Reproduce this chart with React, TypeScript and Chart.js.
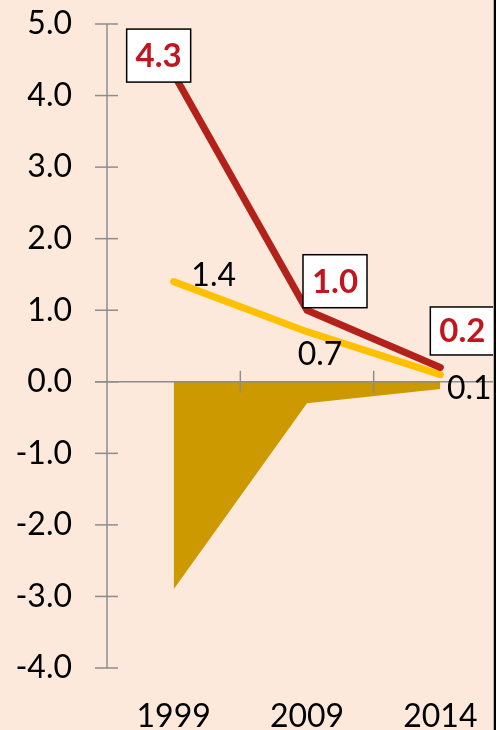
import React, { useEffect, useRef } from "react";
import { Chart, registerables } from "chart.js";

Chart.register(...registerables);

const years = ["1999", "2009", "2014"];
const redSeries = [4.3, 1.0, 0.2];
const yellowSeries = [1.4, 0.7, 0.1];
const areaSeries = [-2.9, -0.3, -0.1];
const yMin = -4;
const yMax = 5;
const yStep = 1;

const BG = "#FDE9DB";
const RED = "#B3221A";
const RED_TEXT = "#C0161F";
const YELLOW = "#FFC000";
const GOLD = "#CC9900";
const AXIS = "#8C8C8C";
const FONT = "Lato, 'Open Sans', sans-serif";

// label offsets (pixels, relative to point): styling only
const redOffsets = [[-15, -18.5], [28, -29], [22, -36.5]];
const yellowOffsets = [[40, -7], [13, 21.5], [29, 13]];

const CANVAS_W = 507;
const CANVAS_H = 740;
const AREA_TOP = 24;
const AREA_BOTTOM = 668;

const overlayPlugin = {
  id: "overlay",
  afterDatasetsDraw(chart: any) {
    const ctx = chart.ctx;
    const { left, right, top, bottom } = chart.chartArea;
    const ys = chart.scales.y;
    const xs = chart.scales.x;
    ctx.save();
    ctx.strokeStyle = AXIS;
    ctx.lineWidth = 1.5;
    ctx.beginPath();
    ctx.moveTo(left, top);
    ctx.lineTo(left, bottom);
    ctx.stroke();
    for (let v = yMin; v <= yMax; v += yStep) {
      const py = ys.getPixelForValue(v);
      ctx.beginPath();
      ctx.moveTo(left - 12, py);
      ctx.lineTo(left + 11, py);
      ctx.stroke();
    }
    const zy = ys.getPixelForValue(0);
    ctx.beginPath();
    ctx.moveTo(left - 12, zy);
    ctx.lineTo(right, zy);
    ctx.stroke();
    for (let i = 0; i < years.length - 1; i++) {
      const px = (xs.getPixelForValue(i) + xs.getPixelForValue(i + 1)) / 2;
      ctx.beginPath();
      ctx.moveTo(px, zy - 11);
      ctx.lineTo(px, zy + 11);
      ctx.stroke();
    }
    ctx.restore();
  },
  afterDraw(chart: any) {
    const ctx = chart.ctx;
    const xs = chart.scales.x;
    const ys = chart.scales.y;
    ctx.save();
    ctx.textAlign = "center";
    ctx.textBaseline = "alphabetic";
    ctx.font = `32px ${FONT}`;
    ctx.fillStyle = "#000";
    yellowSeries.forEach((v, i) => {
      const cx = xs.getPixelForValue(i) + yellowOffsets[i][0];
      const cy = ys.getPixelForValue(v) + yellowOffsets[i][1];
      ctx.fillText(v.toFixed(1), cx, cy + 11.5);
    });
    ctx.font = `bold 33px ${FONT}`;
    redSeries.forEach((v, i) => {
      const cx = xs.getPixelForValue(i) + redOffsets[i][0];
      const cy = ys.getPixelForValue(v) + redOffsets[i][1];
      const t = v.toFixed(1);
      const w = 64;
      const h = i === 2 ? 48 : 53;
      ctx.fillStyle = "#fff";
      ctx.fillRect(cx - w / 2, cy - h / 2, w, h);
      ctx.strokeStyle = "#000";
      ctx.lineWidth = 1.5;
      ctx.strokeRect(cx - w / 2, cy - h / 2, w, h);
      ctx.fillStyle = RED_TEXT;
      ctx.fillText(t, cx, cy + 11.5);
    });
    ctx.restore();
  },
};

export default function App() {
  const ref = useRef<HTMLCanvasElement>(null);
  useEffect(() => {
    if (!ref.current) return;
    const chart = new Chart(ref.current, {
      type: "line",
      data: {
        labels: years,
        datasets: [
          {
            label: "area",
            data: areaSeries,
            fill: "origin",
            backgroundColor: GOLD,
            borderWidth: 0,
            pointRadius: 0,
            tension: 0,
            order: 3,
          },
          {
            label: "yellow",
            data: yellowSeries,
            borderColor: YELLOW,
            borderWidth: 7,
            borderCapStyle: "round",
            borderJoinStyle: "round",
            pointRadius: 0,
            fill: false,
            order: 2,
          },
          {
            label: "red",
            data: redSeries,
            borderColor: RED,
            borderWidth: 7,
            borderCapStyle: "round",
            borderJoinStyle: "round",
            pointRadius: 0,
            fill: false,
            order: 1,
          },
        ],
      },
      options: {
        animation: false,
        responsive: true,
        maintainAspectRatio: false,
        layout: { padding: { top: AREA_TOP, left: 0, right: 0, bottom: 0 } },
        plugins: {
          legend: { display: false },
          tooltip: { enabled: false },
        },
        scales: {
          x: {
            type: "category",
            offset: true,
            grid: { display: false, drawTicks: false },
            border: { display: false },
            ticks: {
              color: "#000",
              font: { family: FONT, size: 32 },
              padding: 29,
              maxRotation: 0,
              autoSkip: false,
            },
            afterFit(scale: any) {
              scale.height = CANVAS_H - AREA_BOTTOM;
              scale.paddingLeft = 0;
              scale.paddingRight = 0;
            },
          },
          y: {
            min: yMin,
            max: yMax,
            grid: { display: false, drawTicks: false },
            border: { display: false },
            ticks: {
              stepSize: yStep,
              color: "#000",
              font: { family: FONT, size: 32 },
              padding: 35,
              callback: (v: any) => Number(v).toFixed(1),
            },
            afterFit(scale: any) {
              scale.width = 107;
              scale.paddingTop = 0;
              scale.paddingBottom = 0;
            },
          },
        },
      },
      plugins: [overlayPlugin],
    });
    return () => chart.destroy();
  }, []);

  return (
    <div
      style={{
        position: "fixed",
        left: 0,
        top: 0,
        width: 496,
        height: 730,
        overflow: "hidden",
        background: BG,
      }}
    >
      <div style={{ position: "relative", width: CANVAS_W, height: CANVAS_H }}>
        <canvas ref={ref} />
      </div>
      <div style={{ position: "absolute", left: 493, top: 0, width: 1, height: 730, background: "#BDB0A8" }} />
      <div style={{ position: "absolute", left: 494, top: 0, width: 2, height: 730, background: "#000" }} />
    </div>
  );
}
